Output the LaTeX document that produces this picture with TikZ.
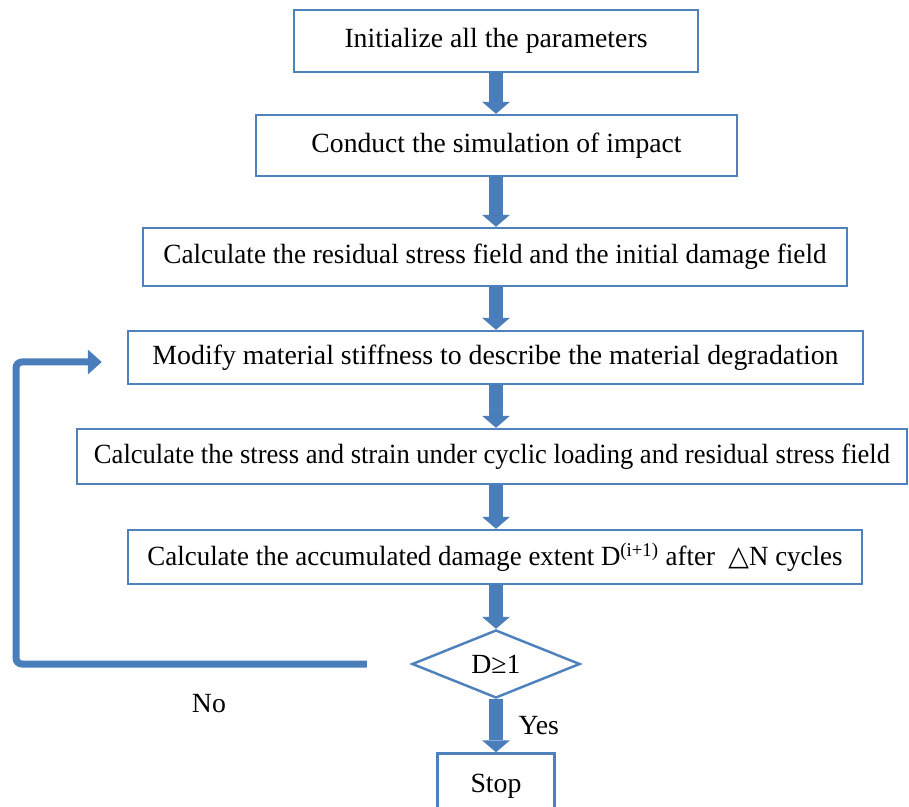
\documentclass[tikz,border=0pt]{standalone}
\usepackage{fontspec}
\setmainfont{Liberation Serif}
\newfontfamily\symbolfont{DejaVu Sans}
\usepackage{graphicx}
\usetikzlibrary{arrows.meta,shapes.geometric,positioning,calc}

\definecolor{boxblue}{RGB}{79,129,189}
\definecolor{flowblue}{RGB}{74,126,187}
% squeeze a label to the width it has in the figure
\newcommand{\fitw}[2]{\resizebox{#1}{\height}{#2}}

\begin{document}
\begin{tikzpicture}[font=\fontsize{15.8}{19}\selectfont,
  process/.style={draw=boxblue, line width=1.4pt, rectangle, align=center, inner sep=0pt},
  decision/.style={draw=boxblue, line width=1.4pt, diamond, inner sep=0pt},
  blockarrow/.style={draw=flowblue, line width=0.27cm, -{Triangle[width=0.56cm,length=0.24cm,line width=0pt]}},
  backarrow/.style={draw=flowblue, line width=0.14cm, rounded corners=0.12cm, -{Triangle[width=0.5cm,length=0.28cm,line width=0pt]}}]
\useasboundingbox (0,0) rectangle (18.18,-16.14);

\node[process, minimum width=8.08cm, minimum height=1.24cm] (init) at (9.92,-0.82)
    {\fitw{6.06cm}{Initialize all the parameters}};
\node[process, minimum width=9.62cm, minimum height=1.22cm] (impact) at (9.93,-2.91)
    {\fitw{7.4cm}{Conduct the simulation of impact}};
\node[process, minimum width=14.08cm, minimum height=1.16cm] (residual) at (9.9,-5.14)
    {\fitw{13.26cm}{Calculate the residual stress field and the initial damage field}};
\node[process, minimum width=14.7cm, minimum height=1.06cm] (modify) at (9.91,-7.15)
    {\fitw{13.72cm}{Modify material stiffness to describe the material degradation}};
\node[process, minimum width=16.6cm, minimum height=1.1cm] (cyclic) at (9.84,-9.13)
    {\fitw{15.92cm}{Calculate the stress and strain under cyclic loading and residual stress field}};
\node[process, minimum width=14.68cm, minimum height=1.08cm] (accum) at (9.9,-11.14)
    {\fitw{13.9cm}{Calculate the accumulated damage extent D\textsuperscript{(i+1)} after~~{\symbolfont △}N cycles}};
\node[decision, minimum width=3.36cm, minimum height=1.36cm] (check) at (9.92,-13.28) {D≥1};
\node[process, minimum width=2.34cm, minimum height=1.3cm] (stop) at (9.92,-15.72) {Stop};

\foreach \a/\b in {init/impact, impact/residual, residual/modify, modify/cyclic, cyclic/accum, accum/check}
    \draw[blockarrow] (\a.south -| init.south) -- (\b.north -| init.south);
\draw[blockarrow] (check.south) -- node[right=0.2cm] {Yes} (stop.north);

% way back when D < 1
\coordinate (noStart) at ($(check.west)+(-0.88,0)$);
\coordinate (loopEnd) at ($(modify.west)+(-0.5,-0.09)$);
\coordinate (loopCorner) at (0.32,0 |- loopEnd);
\draw[backarrow] (noStart) -- node[pos=0.45, below=0.42cm] {No} (noStart -| loopCorner)
    -- (loopCorner) -- (loopEnd);
\end{tikzpicture}
\end{document}
